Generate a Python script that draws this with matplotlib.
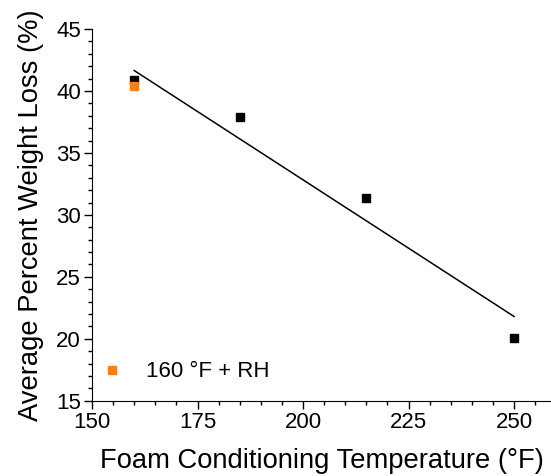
import matplotlib
matplotlib.use("Agg")
import matplotlib.pyplot as plt
from matplotlib.ticker import MultipleLocator

plt.rcParams['font.family'] = ['Liberation Sans', 'DejaVu Sans']

# average weight loss vs conditioning temperature
temp = [160, 185, 215, 250]
loss = [40.9, 37.9, 31.4, 20.1]
rh_temp = [160]
rh_loss = [40.4]
# linear trend line endpoints
fit_x = [160, 250]
fit_y = [41.65, 21.8]

fig = plt.figure(figsize=(5.51, 4.76), dpi=100)
ax = fig.add_axes([0.167, 0.158, 0.835, 0.781])

ax.plot(fit_x, fit_y, color="black", lw=1.1, zorder=2)
ax.plot(temp, loss, ls="none", marker="s", ms=5.8, color="black", zorder=3)
ax.plot(rh_temp, rh_loss, ls="none", marker="s", ms=5.8, color="#ff7f0e",
        label="160 °F + RH", zorder=4)

ax.set_xlim(150, 259)
ax.set_ylim(15, 45)
ax.xaxis.set_major_locator(MultipleLocator(25))
ax.xaxis.set_minor_locator(MultipleLocator(5))
ax.yaxis.set_major_locator(MultipleLocator(5))
ax.yaxis.set_minor_locator(MultipleLocator(1))
ax.tick_params(which="major", direction="out", length=6, width=1, labelsize=16, pad=2)
ax.tick_params(which="minor", direction="out", length=3, width=1)
for s in ("top", "right"):
    ax.spines[s].set_visible(False)

ax.set_xlabel("Foam Conditioning Temperature (°F)", fontsize=19.7, labelpad=11)
ax.set_ylabel("Average Percent Weight Loss (%)", fontsize=19.7, labelpad=9)

ax.legend(loc="center left", frameon=False, fontsize=16, handlelength=1.0,
          handletextpad=1.0, borderpad=0, borderaxespad=0,
          bbox_to_anchor=(0.02, 0.078))

fig.savefig("out.png", dpi=100)
